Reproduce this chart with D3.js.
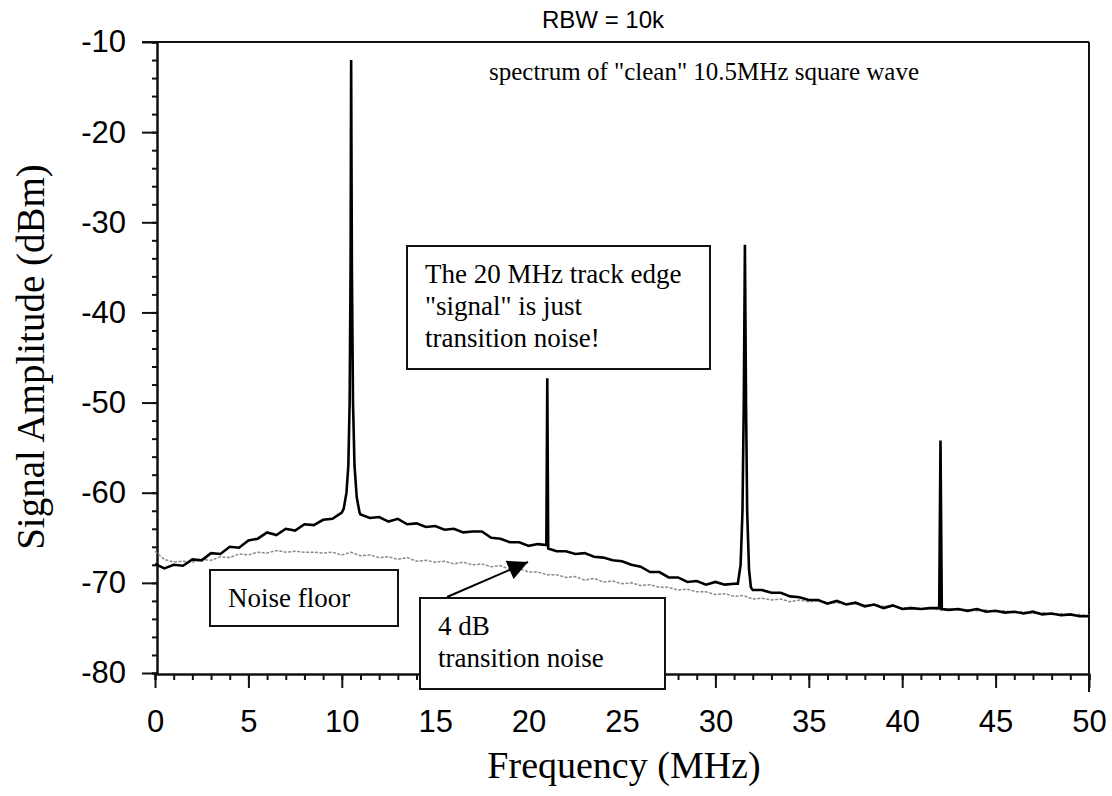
<!DOCTYPE html>
<html>
<head>
<meta charset="utf-8">
<script src="https://cdn.jsdelivr.net/npm/d3@7"></script>
<style>
  body { margin: 0; background: #fff; }
  .tick text { font-family: "Liberation Sans", Arial, sans-serif; }
</style>
</head>
<body>
<svg id="chart" width="1112" height="796"></svg>
<script>
// measured trace, [MHz, dBm]
const signalTrace = [
  [0,-67.9],[0.5,-68.4],[1,-68.0],[1.5,-68.1],[2,-67.4],[2.5,-67.5],[3,-66.7],[3.5,-66.8],[4,-66.0],[4.5,-66.1],
  [5,-65.3],[5.5,-65.1],[6,-64.4],[6.5,-64.7],[7,-64.0],[7.5,-64.2],[8,-63.5],[8.5,-63.6],[9,-63.0],[9.5,-62.9],
  [10,-62.2],[11,-62.4],[11.5,-62.8],[12,-62.7],[12.5,-63.2],[13,-62.9],[13.5,-63.5],[14,-63.4],[14.5,-63.8],
  [15,-63.7],[15.5,-64.1],[16,-64.0],[16.5,-64.4],[17,-64.3],[17.5,-64.3],[18,-65.0],[18.5,-65.1],[19,-65.5],
  [19.5,-65.5],[20,-65.9],[20.5,-65.7],[21.5,-66.5],[22,-66.5],[22.5,-66.8],[23,-66.7],[23.5,-67.1],[24,-67.2],
  [24.5,-67.5],[25,-67.6],[25.5,-68.0],[26,-68.2],[26.5,-68.8],[27,-68.8],[27.5,-69.4],[28,-69.4],[28.5,-69.9],
  [29,-69.8],[29.5,-70.2],[30,-69.9],[30.5,-70.2],[31,-70.1],[32,-70.8],[32.5,-70.8],[33,-71.1],[33.5,-71.1],
  [34,-71.5],[34.5,-71.6],[35,-71.9],[35.5,-71.9],[36,-72.3],[36.5,-72.0],[37,-72.4],[37.5,-72.2],[38,-72.6],
  [38.5,-72.4],[39,-72.8],[39.5,-72.5],[40,-72.9],[40.5,-72.8],[41,-72.9],[41.5,-72.8],[42.5,-73.0],[43,-72.9],
  [43.5,-73.1],[44,-72.9],[44.5,-73.2],[45,-73.1],[45.5,-73.3],[46,-73.2],[46.5,-73.4],[47,-73.2],[47.5,-73.5],
  [48,-73.4],[48.5,-73.6],[49,-73.5],[49.5,-73.7],[50,-73.7]
]

// harmonic spikes (fundamental, 2nd, 3rd, 4th)
const harmonicPeaks = [
  [10.1,-61.8],[10.25,-60],[10.35,-57],[10.42,-50],[10.47,-35],[10.5,-12],[10.54,-35],[10.6,-50],[10.68,-57],[10.8,-60.5],[10.95,-62.2],
  [20.95,-65.8],[21.0,-47.3],[21.05,-66.2],
  [31.2,-70.1],[31.35,-68],[31.45,-62],[31.52,-50],[31.58,-32.5],[31.64,-50],[31.7,-62],[31.8,-68.5],[31.9,-70.5],
  [41.98,-72.8],[42.05,-54.2],[42.12,-72.9]
]

const noiseFloor = [
  [0,-66.5],[0.5,-67.4],[1,-67.7],[1.5,-67.6],[2,-67.7],[2.5,-67.4],[3,-67.5],[3.5,-67.1],[4,-67.2],[4.5,-66.8],
  [5,-66.9],[5.5,-66.6],[6,-66.7],[6.5,-66.4],[7,-66.6],[7.5,-66.5],[8,-66.6],[8.5,-66.6],[9,-66.7],[9.5,-66.6],
  [10,-66.9],[10.5,-66.6],[11,-67.0],[11.5,-66.9],[12,-67.2],[12.5,-67.1],[13,-67.4],[13.5,-67.2],[14,-67.6],
  [14.5,-67.5],[15,-67.7],[15.5,-67.6],[16,-67.9],[16.5,-67.7],[17,-68.0],[17.5,-67.9],[18,-68.2],[18.5,-68.1],
  [19,-68.5],[19.5,-68.4],[20,-68.8],[20.5,-68.8],[21,-69.1],[21.5,-69.1],[22,-69.4],[22.5,-69.3],[23,-69.7],
  [23.5,-69.5],[24,-69.9],[24.5,-69.8],[25,-70.1],[25.5,-70.0],[26,-70.3],[26.5,-70.2],[27,-70.5],[27.5,-70.5],
  [28,-70.8],[28.5,-70.7],[29,-71.0],[29.5,-71.0],[30,-71.3],[30.5,-71.2],[31,-71.5],[31.5,-71.4],[32,-71.8],
  [32.5,-71.7],[33,-71.9],[33.5,-71.8],[34,-72.1],[34.5,-71.9],[35,-72.1],[35.5,-72.0],[36,-72.2],[36.5,-72.2],
  [37,-72.4],[37.5,-72.3],[38,-72.5],[38.5,-72.4],[39,-72.6],[39.5,-72.6],[40,-72.8],[40.5,-72.7],[41,-72.9],
  [41.5,-72.8],[42,-73.0],[42.5,-72.9],[43,-73.0],[43.5,-73.0],[44,-73.1],[44.5,-73.0],[45,-73.2],[45.5,-73.1],
  [46,-73.3],[46.5,-73.2],[47,-73.4],[47.5,-73.3],[48,-73.5],[48.5,-73.4],[49,-73.6],[49.5,-73.5],[50,-73.6]
]

const xMajor = [0, 5, 10, 15, 20, 25, 30, 35, 40, 45, 50]
const yMajor = [-80, -70, -60, -50, -40, -30, -20, -10]

const trackNote = ['The 20 MHz track edge', '"signal" is just', 'transition noise!']
const floorNote = ['Noise floor']
const transNote = ['4 dB', 'transition noise']

const svg = d3.select('#chart')
const serif = '"Liberation Serif", "Times New Roman", serif'

const x = d3.scaleLinear().domain([0, 50]).range([155, 1089])
const y = d3.scaleLinear().domain([-80, -10]).range([673, 42])

// frame top + right
svg.append('line').attr('x1', 142).attr('x2', x(50)).attr('y1', y(-10)).attr('y2', y(-10))
  .attr('stroke', '#111').attr('stroke-width', 2)
svg.append('line').attr('x1', x(50)).attr('x2', x(50)).attr('y1', y(-10)).attr('y2', 692)
  .attr('stroke', '#111').attr('stroke-width', 2)

// y axis
const yg = svg.append('g').attr('transform', 'translate(157,0)')
yg.append('g').call(d3.axisLeft(y).tickValues(d3.range(-80, -9, 2)).tickSize(5).tickFormat(''))
yg.append('g').call(d3.axisLeft(y).tickValues(yMajor).tickSize(15).tickSizeOuter(0).tickPadding(16)
  .tickFormat(d => String(d)))
yg.selectAll('text').attr('font-size', 31).attr('fill', '#000')

// x axis
const xg = svg.append('g').attr('transform', 'translate(0,674)')
xg.append('g').call(d3.axisBottom(x).tickValues(d3.range(0, 51, 1)).tickSize(6).tickFormat(''))
xg.append('g').call(d3.axisBottom(x).tickValues(xMajor).tickSize(14).tickSizeOuter(0).tickPadding(22))
xg.selectAll('text').attr('font-size', 31).attr('fill', '#000')

svg.selectAll('.domain, .tick line').attr('stroke', '#111').attr('stroke-width', 2)

const line = d3.line().x(d => x(d[0])).y(d => y(d[1]))

svg.append('path').datum(noiseFloor).attr('d', line)
  .attr('fill', 'none').attr('stroke', '#8a8a8a').attr('stroke-width', 1.5)
  .attr('stroke-dasharray', '3 1.5')

const spectrum = signalTrace.concat(harmonicPeaks).sort((a, b) => a[0] - b[0])
svg.append('path').datum(spectrum).attr('d', line)
  .attr('fill', 'none').attr('stroke', '#000').attr('stroke-width', 2.6)
  .attr('stroke-linejoin', 'miter')

// annotation boxes
function noteBox(lines, bx, by, bw, bh, tx, ty, step) {
  svg.append('rect').attr('x', bx).attr('y', by).attr('width', bw).attr('height', bh)
    .attr('fill', '#fff').attr('stroke', '#111').attr('stroke-width', 2)
  svg.selectAll(null).data(lines).enter().append('text')
    .attr('x', tx).attr('y', (d, i) => ty + i * step)
    .attr('font-family', serif).attr('font-size', 27).attr('fill', '#000')
    .text(d => d)
}
noteBox(trackNote, 407, 246, 303, 123, 425, 283, 32)
noteBox(floorNote, 210, 570, 188, 56, 228, 607, 0)
noteBox(transNote, 420, 598, 245, 91, 438, 635, 32)

// arrow to the gap between the traces
svg.append('defs').append('marker').attr('id', 'head')
  .attr('viewBox', '0 0 10 10').attr('refX', 10).attr('refY', 5)
  .attr('markerWidth', 24).attr('markerHeight', 20).attr('markerUnits', 'userSpaceOnUse')
  .attr('orient', 'auto')
  .append('path').attr('d', 'M0,0L10,5L0,10Z').attr('fill', '#000')
svg.append('line').attr('x1', 447).attr('y1', 597).attr('x2', 528).attr('y2', 562)
  .attr('stroke', '#000').attr('stroke-width', 2).attr('marker-end', 'url(#head)')

// titles
svg.append('text').attr('x', 603).attr('y', 28).attr('text-anchor', 'middle')
  .attr('font-family', '"Liberation Sans", Arial, sans-serif').attr('font-size', 24)
  .text('RBW = 10k')
svg.append('text').attr('x', 489).attr('y', 80)
  .attr('font-family', serif).attr('font-size', 25)
  .text('spectrum of "clean" 10.5MHz square wave')
svg.append('text').attr('x', 624).attr('y', 778).attr('text-anchor', 'middle')
  .attr('font-family', serif).attr('font-size', 38)
  .text('Frequency (MHz)')
svg.append('text').attr('transform', 'translate(44,357) rotate(-90)').attr('text-anchor', 'middle')
  .attr('font-family', serif).attr('font-size', 39)
  .text('Signal Amplitude (dBm)')
</script>
</body>
</html>
